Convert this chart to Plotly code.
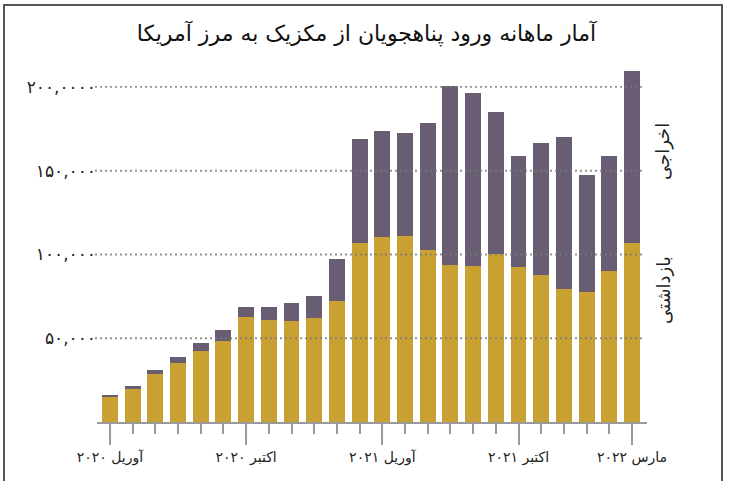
import plotly.graph_objects as go

months = ["آوریل ۲۰۲۰", "مه ۲۰۲۰", "ژوئن ۲۰۲۰", "ژوئیه ۲۰۲۰", "اوت ۲۰۲۰", "سپتامبر ۲۰۲۰",
          "اکتبر ۲۰۲۰", "نوامبر ۲۰۲۰", "دسامبر ۲۰۲۰", "ژانویه ۲۰۲۱", "فوریه ۲۰۲۱", "مارس ۲۰۲۱",
          "آوریل ۲۰۲۱", "مه ۲۰۲۱", "ژوئن ۲۰۲۱", "ژوئیه ۲۰۲۱", "اوت ۲۰۲۱", "سپتامبر ۲۰۲۱",
          "اکتبر ۲۰۲۱", "نوامبر ۲۰۲۱", "دسامبر ۲۰۲۱", "ژانویه ۲۰۲۲", "فوریه ۲۰۲۲", "مارس ۲۰۲۲"]

# بازداشتی (apprehensions) - bottom segment
apprehended = [15000, 19900, 28500, 35200, 42600, 48400, 62700, 61100, 60300, 62300, 72100, 107000,
               110400, 111200, 102700, 93900, 93100, 100300, 92300, 87700, 79500, 77500, 90300, 107000]
# اخراجی (expulsions) - top segment
expelled = [1100, 1600, 2400, 3400, 4700, 6300, 6100, 7700, 10900, 12900, 25200, 62000,
            63100, 61100, 75800, 106500, 103100, 85000, 66500, 79100, 90800, 70100, 68300, 102700]

x_tick_idx = [0, 6, 12, 18, 23]
x_tick_text = ["آوریل ۲۰۲۰", "اکتبر ۲۰۲۰", "آوریل ۲۰۲۱", "اکتبر ۲۰۲۱", "مارس ۲۰۲۲"]

y_tick_vals = [50000, 100000, 150000, 200000]
y_tick_text = ["۵۰,۰۰۰", "۱۰۰,۰۰۰", "۱۵۰,۰۰۰", "۲۰۰,۰۰۰۰"]

title_text = "آمار ماهانه ورود پناهجویان از مکزیک به مرز آمریکا"
label_expelled = "اخراجی"
label_apprehended = "بازداشتی"

YELLOW = "#c9a032"
PURPLE = "#685d72"
FONT = "DejaVu Sans"

idx = list(range(len(months)))

fig = go.Figure()
fig.add_trace(go.Bar(x=idx, y=apprehended, marker=dict(color=YELLOW, line=dict(width=0)),
                     width=0.7, name=label_apprehended, hovertext=months))
fig.add_trace(go.Bar(x=idx, y=expelled, marker=dict(color=PURPLE, line=dict(width=0)),
                     width=0.7, name=label_expelled, hovertext=months))

L, R, T, B = 97, 86, 60, 59
W, H = 733, 481
pw, ph = W - L - R, H - T - B

def px_x(p):
    return (p - L) / pw

def px_y(p):
    return (H - B - p) / ph

# dotted gridlines above the bars
for v in y_tick_vals:
    fig.add_shape(type="line", xref="paper", yref="y", x0=px_x(95), x1=px_x(644), y0=v, y1=v,
                  line=dict(color="rgba(120,120,120,0.8)", width=1.8, dash="2px,3px"), layer="above")

# outer frame
fig.add_shape(type="rect", xref="paper", yref="paper", x0=px_x(4), x1=px_x(722),
              y0=px_y(495), y1=px_y(5), line=dict(color="#555555", width=2), layer="above")

fig.add_annotation(xref="paper", yref="paper", x=px_x(663), y=px_y(152), text=label_expelled,
                   xanchor="center", yanchor="middle",
                   textangle=-90, showarrow=False, font=dict(family=FONT, size=18, color="#222"))
fig.add_annotation(xref="paper", yref="paper", x=px_x(663), y=px_y(290), text=label_apprehended,
                   xanchor="center", yanchor="middle",
                   textangle=-90, showarrow=False, font=dict(family=FONT, size=18, color="#222"))

fig.update_layout(
    width=W, height=H,
    margin=dict(l=L, r=R, t=T, b=B),
    barmode="stack",
    bargap=0.3,
    showlegend=False,
    plot_bgcolor="white",
    paper_bgcolor="white",
    title=dict(text=title_text, x=0.5, xanchor="center", xref="container",
               y=1 - 33 / H, yanchor="middle", yref="container",
               font=dict(family=FONT, size=22, color="#111")),
    font=dict(family=FONT, color="#222"),
)

fig.update_xaxes(
    range=[-0.57, 23.66],
    tickmode="array", tickvals=x_tick_idx, ticktext=x_tick_text,
    ticks="outside", ticklen=21, tickwidth=2, tickcolor="#9a9a9a",
    showline=True, linecolor="#9a9a9a", linewidth=2,
    showgrid=False, zeroline=False,
    tickfont=dict(family=FONT, size=14, color="#222"),
    minor=dict(tickmode="linear", tick0=0, dtick=1, ticks="outside", ticklen=10,
               tickwidth=2, tickcolor="#9a9a9a", showgrid=False),
)
fig.update_yaxes(
    range=[0, 216100],
    tickmode="array", tickvals=y_tick_vals, ticktext=y_tick_text,
    showgrid=False, zeroline=False, showline=False, ticks="",
    tickfont=dict(family=FONT, size=17, color="#222"),
)

fig.write_html("out.html", config={"displayModeBar": False},
               post_script="document.body.style.margin='0px';")
